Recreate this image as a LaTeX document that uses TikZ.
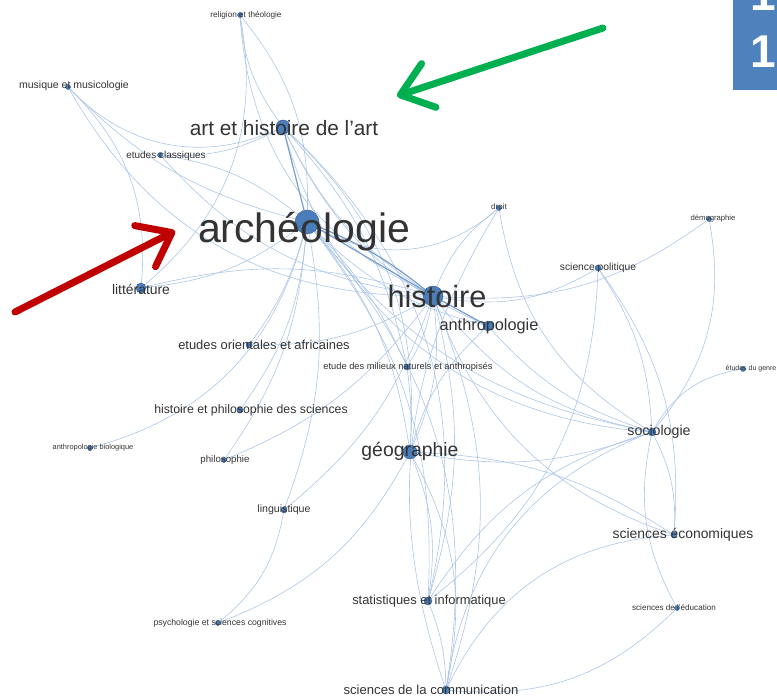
\documentclass[tikz,border=0pt]{standalone}
\usepackage{fontspec}
\setmainfont{Liberation Sans}
\usetikzlibrary{arrows.meta,backgrounds}

\definecolor{linkblue}{RGB}{172,198,230}
\definecolor{heavyblue}{RGB}{120,158,205}
\definecolor{dotblue}{RGB}{74,125,186}
\definecolor{dotline}{RGB}{50,90,140}
\definecolor{labgray}{RGB}{51,51,51}
\definecolor{boxblue}{RGB}{79,129,189}
\definecolor{arrowgreen}{RGB}{0,176,80}
\definecolor{arrowred}{RGB}{192,0,0}

\tikzset{
	dot/.style={circle, fill=dotblue, draw=dotline, line width=0.4pt, inner sep=0pt, minimum size=#1},
	lab/.style={text=labgray, inner sep=0pt, font=\fontsize{#1}{#1}\selectfont},
	link/.style={draw=linkblue, line width=0.6pt},
	heavylink/.style={draw=heavyblue, line width=1.2pt},
	pointer/.style={line width=7pt, line cap=round, -{Straight Barb[length=30pt,width=46pt,round]}},
}

\begin{document}
\begin{tikzpicture}[x=1pt, y=-1pt]

	\useasboundingbox (0,0) rectangle (777,700);

	\node[dot=5] (relig) at (240,15) {};
	\node[dot=5] (musiq) at (68,87) {};
	\node[dot=14] (art) at (283,127) {};
	\node[dot=5] (classiq) at (160,155) {};
	\node[dot=5] (droit) at (499,208) {};
	\node[dot=5] (demo) at (709,219) {};
	\node[dot=24] (arch) at (307,222) {};
	\node[dot=6] (scipol) at (598,268) {};
	\node[dot=10] (litt) at (141,288) {};
	\node[dot=20] (hist) at (433,296) {};
	\node[dot=10] (anthro) at (488,326) {};
	\node[dot=6] (orient) at (249,345) {};
	\node[dot=6] (milieux) at (407,367) {};
	\node[dot=5] (genre) at (743,369) {};
	\node[dot=6] (hps) at (240,410) {};
	\node[dot=8] (socio) at (652,432) {};
	\node[dot=5] (anthbio) at (90,448) {};
	\node[dot=14] (geo) at (410,452) {};
	\node[dot=5] (philo) at (224,460) {};
	\node[dot=6] (ling) at (284,510) {};
	\node[dot=6] (eco) at (674,535) {};
	\node[dot=8] (stat) at (428,601) {};
	\node[dot=5] (educ) at (677,608) {};
	\node[dot=5] (psy) at (218,623) {};
	\node[dot=8] (comm) at (446,690) {};

	\node[lab=8.2] (religlab) at (246,15) {religion et théologie};
	\node[lab=10.5] (musiqlab) at (74,86) {musique et musicologie};
	\node[lab=20.8] (artlab) at (284,128) {art et histoire de l'art};
	\node[lab=10] (classiqlab) at (166,156) {etudes classiques};
	\node[lab=8] (droitlab) at (499,207) {droit};
	\node[lab=7.7] (demolab) at (713,218) {démographie};
	\node[lab=41] (archlab) at (304,232) {archéologie};
	\node[lab=10.3] (scipollab) at (598,268) {science politique};
	\node[lab=13.9] (littlab) at (141,289) {littérature};
	\node[lab=30.7] (histlab) at (437,297) {histoire};
	\node[lab=16.3] (anthrolab) at (489,326) {anthropologie};
	\node[lab=12.9] (orientlab) at (264,345) {etudes orientales et africaines};
	\node[lab=9.3] (milieuxlab) at (408,367) {etude des milieux naturels et anthropisés};
	\node[lab=7] (genrelab) at (751,369) {études du genre};
	\node[lab=12.3] (hpslab) at (251,410) {histoire et philosophie des sciences};
	\node[lab=14.2] (sociolab) at (659,432) {sociologie};
	\node[lab=7.4] (anthbiolab) at (93,448) {anthropologie biologique};
	\node[lab=19.4] (geolab) at (410,451) {géographie};
	\node[lab=9.7] (philolab) at (225,460) {philosophie};
	\node[lab=10.6] (linglab) at (284,510) {linguistique};
	\node[lab=13.9] (ecolab) at (683,535) {sciences économiques};
	\node[lab=12.9] (statlab) at (429,601) {statistiques et informatique};
	\node[lab=8.1] (educlab) at (674,608) {sciences de l'éducation};
	\node[lab=8.7] (psylab) at (220,623) {psychologie et sciences cognitives};
	\node[lab=13.1] (commlab) at (431,690) {sciences de la communication};

	\begin{scope}[on background layer]
		\foreach \a/\b/\c in {relig/art/-15, relig/arch/20, relig/hist/-30, relig/litt/30,
			musiq/art/-35, musiq/arch/-15, musiq/hist/-30, musiq/litt/25,
			classiq/art/-15, classiq/arch/15, classiq/hist/-20,
			art/hist/-15, art/geo/25, art/anthro/-20, art/stat/30, art/socio/-35, art/milieux/15,
			arch/geo/15, arch/anthro/-15, arch/milieux/10, arch/hps/15, arch/orient/10,
			arch/litt/15, arch/stat/20, arch/comm/25, arch/droit/-35, arch/ling/15,
			arch/philo/15, arch/socio/-20, arch/anthbio/30,
			hist/socio/-20, hist/scipol/-20, hist/droit/15, hist/geo/15, hist/eco/-25,
			hist/stat/15, hist/comm/20, hist/milieux/10, hist/orient/15, hist/litt/-15,
			droit/comm/-25, droit/socio/-25, scipol/socio/15, scipol/eco/20, scipol/stat/25,
			socio/demo/-25, socio/genre/25, socio/eco/15, socio/educ/-20, socio/geo/15,
			socio/stat/-20, socio/comm/-30, educ/comm/25, psy/ling/-20, psy/geo/-20,
			ling/hist/-15, geo/stat/15, geo/comm/20, geo/eco/15, eco/comm/-30, stat/comm/10,
			philo/hist/-15, milieux/geo/5, anthro/geo/-15, anthro/socio/-15, demo/hist/20} {
			\draw[link] (\a) to[bend left=\c] (\b);
		}
		\draw[heavylink] (art) -- (arch);
		\draw[heavylink] (arch) -- (hist);
		\draw[heavylink] (arch) to[bend left=8] (hist);
		\draw[heavylink] (hist) -- (anthro);
	\end{scope}

	\fill[boxblue] (733,-10) rectangle (790,90);
	\node[text=white, inner sep=0pt, anchor=base, font=\bfseries\fontsize{46}{46}\selectfont] (numtop) at (763,11) {1};
	\node[text=white, inner sep=0pt, anchor=base, font=\bfseries\fontsize{46}{46}\selectfont] (numbot) at (763,68) {1};

	\coordinate (gtail) at (603,28);
	\coordinate (ghead) at (397,96);
	\draw[pointer, arrowgreen] (gtail) -- (ghead);

	\coordinate (rtail) at (15,312);
	\coordinate (rhead) at (175,231);
	\draw[pointer, arrowred] (rtail) -- (rhead);

\end{tikzpicture}
\end{document}
